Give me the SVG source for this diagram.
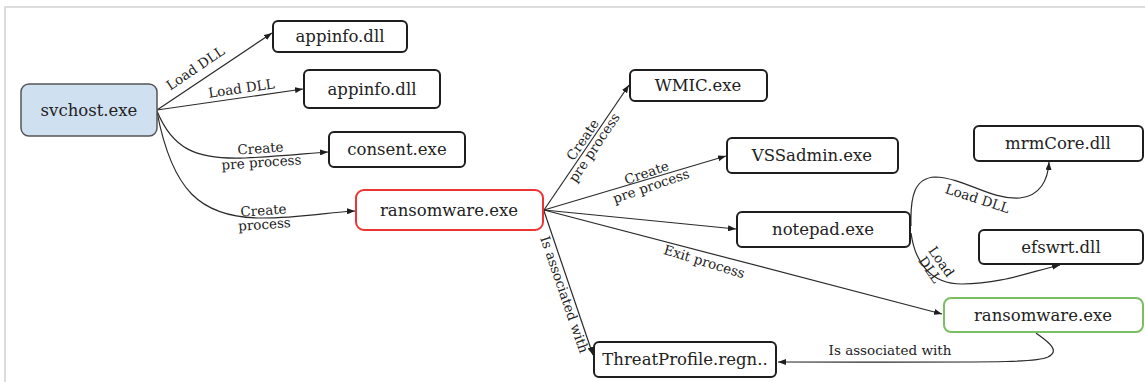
<svg xmlns="http://www.w3.org/2000/svg" width="1145" height="382" viewBox="0 0 1145 382">
<style>
.bg{fill:#fff}
.frame{fill:none;stroke:#dcdcdc;stroke-width:2}
.node rect{fill:#fff;stroke:#1e1e1e;stroke-width:2}
.node text{font-family:"DejaVu Serif","Liberation Serif",serif;font-size:16.5px;fill:#222;text-anchor:middle}
.edge{fill:none;stroke:#2a2a2a;stroke-width:1.2;marker-end:url(#arr)}
.lbl{font-family:"DejaVu Serif","Liberation Serif",serif;font-size:13.5px;fill:#222;text-anchor:middle}
</style>
<defs>
<marker id="arr" markerUnits="userSpaceOnUse" markerWidth="8" markerHeight="6" refX="8" refY="3" orient="auto">
<path d="M0,0 L8,3 L0,6 z" fill="#1e1e1e"/>
</marker>
</defs>
<rect class="bg" x="0" y="0" width="1145" height="382"/>
<path class="frame" d="M5,382 V7 H1145"/>

<g id="connectors">
<path class="edge" d="M157,110 L272,33"/>
<path class="edge" d="M157,110 L303,89"/>
<path class="edge" d="M157,111 C172,148 195,160 245,158 C285,156 310,153 328,152"/>
<path class="edge" d="M157,112 C172,190 200,218 262,218 C300,218 330,212 355,211"/>
<path class="edge" d="M544,210 L629,85"/>
<path class="edge" d="M544,210 L726,156"/>
<path class="edge" d="M544,210 L736,229"/>
<path class="edge" d="M544,210 L942,314"/>
<path class="edge" d="M544,211 L593,355"/>
<path class="edge" d="M911,226 C910,195 915,178 935,177 C965,178 990,200 1020,198 C1040,196 1048,180 1049,162"/>
<path class="edge" d="M911,233 C915,262 930,284 962,284 C1000,284 1030,272 1060,265"/>
<path class="edge" d="M1036,333 C1045,340 1062,350 1048,357 C1035,363 1000,362 778,362"/>

<text class="lbl" transform="translate(198,72) rotate(-34)">Load DLL</text>
<text class="lbl" transform="translate(242,93) rotate(-8)">Load DLL</text>
<text class="lbl" transform="translate(261,156) rotate(-4)"><tspan x="0" y="-3">Create</tspan><tspan x="0" y="11">pre process</tspan></text>
<text class="lbl" transform="translate(264,218) rotate(-4)"><tspan x="0" y="-3">Create</tspan><tspan x="0" y="11">process</tspan></text>
<text class="lbl" transform="translate(589,144) rotate(-56)"><tspan x="0" y="-3">Create</tspan><tspan x="0" y="11">pre process</tspan></text>
<text class="lbl" transform="translate(649,180) rotate(-19)"><tspan x="0" y="-3">Create</tspan><tspan x="0" y="11">pre process</tspan></text>
<text class="lbl" transform="translate(703,266) rotate(17)">Exit process</text>
<text class="lbl" transform="translate(560,296) rotate(71)">Is associated with</text>
<text class="lbl" transform="translate(976,203) rotate(18)">Load DLL</text>
<text class="lbl" transform="translate(935,266) rotate(55)"><tspan x="0" y="-3">Load</tspan><tspan x="0" y="11">DLL</tspan></text>
<text class="lbl" transform="translate(890,355)">Is associated with</text>
</g>

<g id="svchost" class="node"><rect x="21" y="84" width="136" height="52" rx="8" style="fill:#cfe0f1;stroke:#555;stroke-width:1.5"/><text x="89" y="116">svchost.exe</text></g>
<g id="appinfo1" class="node"><rect x="273" y="21" width="134" height="31" rx="5"/><text x="340" y="42">appinfo.dll</text></g>
<g id="appinfo2" class="node"><rect x="304" y="70" width="136" height="38" rx="5"/><text x="372" y="95">appinfo.dll</text></g>
<g id="consent" class="node"><rect x="329" y="132" width="136" height="35" rx="5"/><text x="397" y="155">consent.exe</text></g>
<g id="ransomware" class="node"><rect x="356" y="190" width="187" height="40" rx="8" style="stroke:#ee3333"/><text x="449" y="216">ransomware.exe</text></g>
<g id="wmic" class="node"><rect x="630" y="70" width="137" height="31" rx="5"/><text x="698" y="91">WMIC.exe</text></g>
<g id="vssadmin" class="node"><rect x="727" y="138" width="171" height="35" rx="5"/><text x="812" y="161">VSSadmin.exe</text></g>
<g id="notepad" class="node"><rect x="737" y="212" width="173" height="35" rx="5"/><text x="823" y="235">notepad.exe</text></g>
<g id="mrmcore" class="node"><rect x="974" y="126" width="169" height="35" rx="5"/><text x="1058" y="149">mrmCore.dll</text></g>
<g id="efswrt" class="node"><rect x="979" y="230" width="164" height="34" rx="5"/><text x="1061" y="253">efswrt.dll</text></g>
<g id="ransomware2" class="node"><rect x="944" y="298" width="199" height="34" rx="7" style="stroke:#7cbf63"/><text x="1043" y="321">ransomware.exe</text></g>
<g id="threatprofile" class="node"><rect x="594" y="342" width="182" height="35" rx="5"/><text x="685" y="365">ThreatProfile.regn..</text></g>
</svg>
